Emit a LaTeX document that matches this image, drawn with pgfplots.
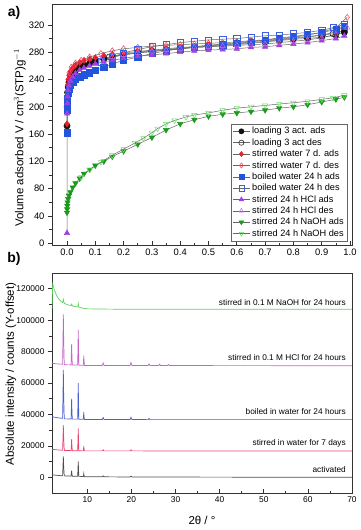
\documentclass[border=0pt]{standalone}
\usepackage{fontspec}
\setmainfont{Liberation Sans}
\usepackage{pgfplots}
\pgfplotsset{compat=1.18}

\definecolor{cblack}{HTML}{111111}
\definecolor{cred}{HTML}{E8202A}
\definecolor{cpink}{HTML}{F04060}
\definecolor{cblue}{HTML}{2255DD}
\definecolor{cblueo}{HTML}{3D5FE0}
\definecolor{cpurp}{HTML}{A040E0}
\definecolor{cviol}{HTML}{C070F0}
\definecolor{cgreen}{HTML}{1A9A1A}
\definecolor{clgreen}{HTML}{66E066}
\definecolor{xact}{HTML}{4D4D4D}
\definecolor{xwat}{HTML}{E8446E}
\definecolor{xboil}{HTML}{4A5FD0}
\definecolor{xhcl}{HTML}{C864C8}
\definecolor{xnaoh}{HTML}{5FD35F}

\pgfplotsset{
  every axis/.append style={
    scale only axis,
    axis line style={black!80, line width=0.8pt},
    tick style={black!80, line width=0.7pt},
    major tick length=4pt, minor tick length=2.5pt,
    xtick align=inside, ytick align=outside,
    xtick pos=bottom, ytick pos=left,
    tick label style={font=\fontsize{9.4}{10}\selectfont},
    label style={font=\fontsize{11.5}{13}\selectfont},
    /pgf/number format/assume math mode=true,
  },
  iso/.style={line width=0.5pt, black!60, mark size=3.1pt},
}

\begin{document}
\begin{tikzpicture}
\path[use as bounding box] (0,0) rectangle (360pt,-530pt);

\node[font=\fontsize{14}{16}\selectfont\bfseries] at (14pt,-13pt) {a)};
\node[font=\fontsize{14}{16}\selectfont\bfseries] at (14pt,-259pt) {b)};

\begin{axis}[
  at={(52pt,-4pt)}, anchor=north west,
  width=300pt, height=241pt,
  xmin=-0.053, xmax=1.007, ymin=-2.5, ymax=350.6,
  xtick={0,0.1,...,1.0}, minor x tick num=1,
  ytick={0,40,...,320}, minor y tick num=1,
  xticklabel style={/pgf/number format/.cd, fixed, fixed zerofill, precision=1},
  ylabel={Volume adsorbed V / cm$^3$(STP)g$^{-1}$},
  ylabel style={at={(axis description cs:-0.107,0.445)}, anchor=center},
  legend style={font=\fontsize{9.2}{10}\selectfont, at={(0.983,0.017)}, anchor=south east,
    draw=black!60, inner sep=1pt, row sep=-0.8pt, cells={anchor=west}},
  legend image post style={mark size=2.6pt},
]
\addplot[iso, mark=*, mark options={fill=cblack, draw=cblack, solid}] table {
0 172
0.0005 200
0.001 212
0.002 221
0.004 229
0.007 236
0.012 242
0.02 248
0.03 253
0.045 258
0.06 261
0.08 264
0.1 267
0.13 270
0.16 273
0.2 276
0.25 279
0.3 281
0.35 283
0.4 285
0.45 287
0.5 288
0.55 290
0.6 291
0.65 293
0.7 295
0.75 297
0.8 299
0.85 300
0.9 302
0.95 305
0.98 309
};
\addlegendentry{loading 3 act. ads}
\addplot[iso, mark=o, mark options={draw=cblack, fill=white, solid}] table {
0.98 311
0.94 307
0.9 305
0.85 303
0.8 301
0.75 299
0.7 297
0.65 296
0.6 294
0.55 292
0.5 290
0.45 288
0.4 286
0.35 284
0.3 282
0.25 280
0.2 277
0.15 273
0.1 268
};
\addlegendentry{loading 3 act des}
\addplot[iso, mark=diamond*, mark options={fill=cred, draw=cred, solid}] table {
0 175
0.0005 210
0.001 222
0.002 232
0.004 240
0.007 246
0.012 252
0.02 257
0.03 261
0.045 265
0.06 268
0.08 270
0.1 272
0.13 275
0.16 277
0.2 279
0.25 281
0.3 283
0.35 285
0.4 287
0.45 288
0.5 290
0.55 291
0.6 292
0.65 294
0.7 296
0.75 298
0.8 300
0.85 302
0.9 305
0.95 310
0.98 318
};
\addlegendentry{stirred water 7 d. ads}
\addplot[iso, mark=diamond, mark options={draw=cpink, fill=white, solid}] table {
0.99 331
0.95 316
0.9 309
0.85 305
0.8 302
0.75 300
0.7 298
0.65 297
0.6 295
0.55 294
0.5 293
0.45 292
0.4 291
0.35 290
0.3 289
0.25 287
0.2 285
0.16 282
0.12 278
0.08 273
0.05 268
0.03 264
0.015 258
0.008 250
};
\addlegendentry{stirred water 7 d. des}
\addplot[iso, mark=square*, mark options={fill=cblue, draw=cblue, solid}] table {
0 162
0.0005 195
0.001 205
0.002 213
0.004 220
0.007 226
0.012 231
0.02 236
0.03 240
0.045 244
0.06 247
0.08 250
0.1 253
0.13 258
0.16 263
0.2 268
0.25 273
0.3 278
0.35 282
0.4 285
0.45 287
0.5 289
0.55 291
0.6 293
0.65 295
0.7 298
0.75 301
0.8 303
0.85 306
0.9 309
0.95 313
0.98 318
};
\addlegendentry{boiled water 24 h ads}
\addplot[iso, mark=square, mark options={draw=cblueo, fill=white, solid}] table {
0.98 321
0.94 316
0.9 312
0.85 309
0.8 307
0.75 305
0.7 304
0.65 302
0.6 300
0.55 299
0.5 298
0.45 296
0.4 294
0.35 291
0.3 288
0.25 284
0.2 279
0.16 273
0.12 266
};
\addlegendentry{boiled water 24 h des}
\addplot[iso, mark=triangle*, mark options={fill=cpurp, draw=cpurp, solid}] table {
0 15
0.0005 190
0.001 205
0.002 215
0.004 224
0.007 231
0.012 238
0.02 244
0.03 249
0.045 254
0.06 257
0.08 260
0.1 263
0.13 266
0.16 268
0.2 271
0.25 274
0.3 276
0.35 278
0.4 280
0.45 282
0.5 283
0.55 284
0.6 285
0.65 287
0.7 288
0.75 290
0.8 292
0.85 294
0.9 297
0.95 300
0.98 304
};
\addlegendentry{stirred 24 h HCl ads}
\addplot[iso, mark=triangle, mark options={draw=cviol, fill=white, solid}] table {
0.99 316
0.95 306
0.9 301
0.85 298
0.8 296
0.75 294
0.7 292
0.65 291
0.6 290
0.55 289
0.5 288
0.45 287
0.4 285
0.35 283
0.3 281
0.25 279
0.2 276
0.16 273
0.12 269
};
\addlegendentry{stirred 24 h HCl des}
\addplot[iso, mark=triangle*, mark options={fill=cgreen, draw=cgreen, rotate=180, solid}] table {
0 45
0.0005 50
0.001 55
0.002 60
0.004 65
0.007 70
0.012 75
0.02 82
0.03 88
0.045 95
0.06 102
0.08 108
0.1 114
0.13 120
0.16 127
0.2 135
0.25 145
0.3 155
0.35 166
0.4 175
0.45 181
0.5 186
0.55 189
0.6 191
0.65 193
0.7 195
0.75 198
0.8 200
0.85 203
0.9 207
0.95 211
0.98 214
};
\addlegendentry{stirred 24 h NaOH ads}
\addplot[iso, mark=triangle, mark options={draw=clgreen, fill=white, rotate=180, solid}] table {
0.98 217
0.94 213
0.9 211
0.85 208
0.8 206
0.75 204
0.7 202
0.65 200
0.6 198
0.55 195
0.5 191
0.45 188
0.42 185
0.38 180
0.35 175
0.32 168
0.3 162
0.27 154
0.24 147
0.2 138
0.16 129
0.12 119
0.08 108
0.05 97
};
\addlegendentry{stirred 24 h NaOH des}
\end{axis}

\begin{axis}[
  at={(52pt,-273pt)}, anchor=north west,
  width=300pt, height=220pt,
  xmin=2, xmax=70, ymin=-10000, ymax=130000,
  xtick={10,20,...,70}, minor x tick num=1,
  ytick={0,20000,...,120000}, minor y tick num=1,
  scaled y ticks=false,
  tick label style={font=\fontsize{8.4}{9}\selectfont},
  yticklabel style={/pgf/number format/.cd, fixed, precision=0, 1000 sep={}},
  xlabel={2θ / °},
  xlabel style={at={(axis description cs:0.5,-0.123)}, anchor=center},
  ylabel={Absolute intensity / counts (Y-offset)},
  ylabel style={at={(axis description cs:-0.137,0.541)}, anchor=center},
  every axis plot/.append style={line width=0.7pt},
  nodes={font=\fontsize{8.3}{9}\selectfont},
]
\addplot[xact] table {
2 1600
3 1300
4 1000
4.4 1000
4.48 6000
4.57 13300
4.66 6000
4.78 900
6.32 800
6.38 2200
6.45 4200
6.52 2200
6.6 700
7.82 700
7.88 4500
7.95 10100
8.02 4500
8.1 600
9.1 500
9.16 1400
9.2 2300
9.26 1200
9.35 400
13.4 300
13.6 900
13.8 300
19.7 200
19.9 800
20.1 200
40 100
70 0
};
\addplot[xwat] table {
2 17800
3 17500
4 17300
4.4 17200
4.48 24000
4.57 33200
4.66 24000
4.78 17000
6.32 17000
6.38 20000
6.45 24200
6.52 20000
6.6 16900
7.82 16900
7.88 23000
7.95 31200
8.02 23000
8.1 16900
9.1 16800
9.16 18500
9.2 20000
9.26 18200
9.35 16800
13.4 16800
13.6 17500
13.8 16800
19.7 16800
19.9 17500
20.1 16800
70 16700
};
\addplot[xboil] table {
2 38600
3 38000
4 37600
4.4 37500
4.48 50000
4.57 68400
4.66 50000
4.78 37200
6.32 37100
6.38 42500
6.45 50100
6.52 42500
6.6 37000
7.82 37000
7.88 47000
7.95 60000
8.02 47000
8.1 36900
9.1 36900
9.16 39500
9.2 41600
9.26 39000
9.35 36800
13.4 36800
13.6 38000
13.8 36800
19.7 36800
19.9 38200
20.1 36800
23.8 36700
24 37500
24.2 36700
70 36700
};
\addplot[xhcl] table {
2 72600
3 72200
4 72000
4.4 71900
4.48 86000
4.57 103700
4.66 86000
4.78 71600
6.32 71500
6.38 77500
6.45 84800
6.52 77500
6.6 71400
7.82 71400
7.88 81500
7.95 93800
8.02 81500
8.1 71300
9.1 71300
9.16 75000
9.2 77400
9.26 74500
9.35 71200
13.4 71200
13.6 72800
13.8 71200
19.7 71200
19.9 73000
20.1 71200
23.8 71100
24 72200
24.2 71100
26.2 71100
26.4 72000
26.6 71100
28.2 71100
28.4 71800
28.6 71100
70 71000
};
\addplot[xnaoh] table {
2 107000
2.15 123000
2.5 119500
3 116000
3.5 113500
4 112000
4.4 111200
4.5 112200
4.57 113200
4.66 111800
4.8 110700
5.5 109800
6.3 109300
6.38 109800
6.45 110200
6.52 109700
6.65 109000
7.5 108500
7.85 108400
7.95 110600
8.05 108600
8.2 108200
9 107600
10 107200
15 107000
70 106900
};
\node[anchor=east] at (axis cs:69.4,110900) {stirred in 0.1 M NaOH for 24 hours};
\node[anchor=east] at (axis cs:69.4,76100) {stirred in 0.1 M HCl for 24 hours};
\node[anchor=east] at (axis cs:69.4,42100) {boiled in water for 24 hours};
\node[anchor=east] at (axis cs:69.4,21900) {stirred in water for 7 days};
\node[anchor=east] at (axis cs:69.4,4900) {activated};
\end{axis}
\end{tikzpicture}
\end{document}
